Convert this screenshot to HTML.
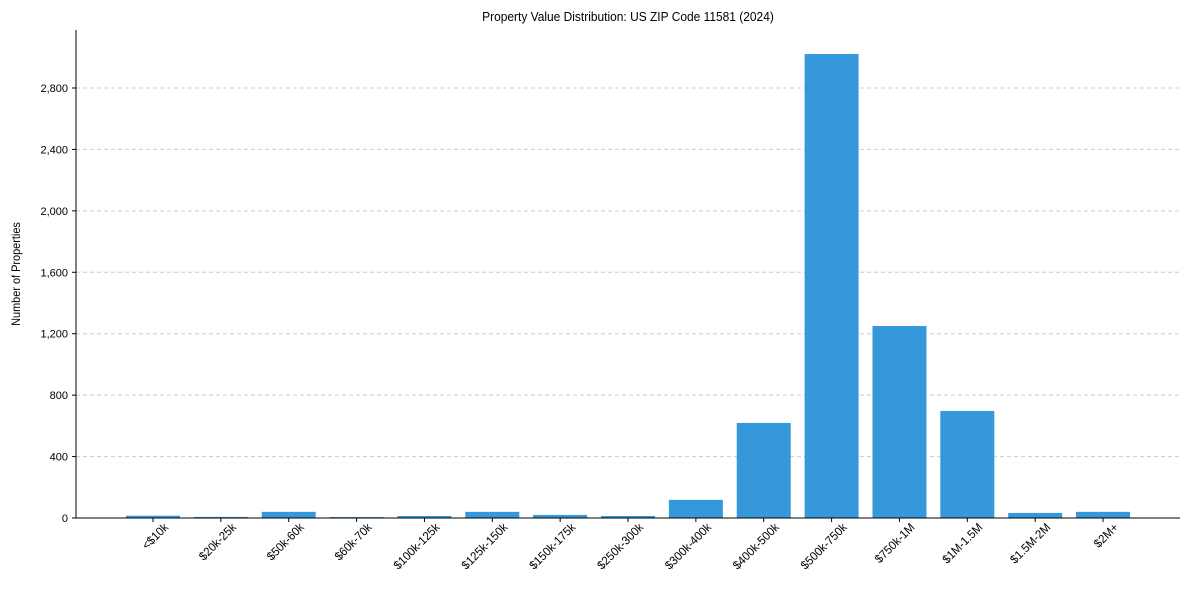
<!DOCTYPE html>
<html><head><meta charset="utf-8"><style>
body{margin:0;background:#fff;font-family:"Liberation Sans",Arial,sans-serif}
svg text{font-family:"Liberation Sans",Arial,sans-serif;fill:#000}
</style></head><body>
<svg id="c" width="1190" height="590">
<text x="628" y="21" font-size="13" text-anchor="middle" transform="translate(628,0) scale(0.92,1) translate(-628,0)">Property Value Distribution: US ZIP Code 11581 (2024)</text>
<text transform="translate(20,274) rotate(-90) scale(0.95,1)" font-size="11.5" text-anchor="middle">Number of Properties</text>
<g id="grid"></g><g id="bars"></g><g id="axes"></g>
</svg>
<script>
const categories=["<$10k","$20k-25k","$50k-60k","$60k-70k","$100k-125k","$125k-150k","$150k-175k","$250k-300k","$300k-400k","$400k-500k","$500k-750k","$750k-1M","$1M-1.5M","$1.5M-2M","$2M+"];
const values=[15,7,40,6,13,40,20,13,118,619,3021,1250,697,33,40];
const yTicks=[0,400,800,1200,1600,2000,2400,2800];
const yTickLabels=["0","400","800","1,200","1,600","2,000","2,400","2,800"];
const NS="http://www.w3.org/2000/svg";
const L=76,R=1180,T=30,B=518;
const yScale=v=>B-v*(430/2800);
const step=67.86,x0=153;
const xScale=i=>x0+i*step;
const bw=54;
function mk(t,a,p){const e=document.createElementNS(NS,t);for(const k in a)e.setAttribute(k,a[k]);p.appendChild(e);return e;}
const grid=document.getElementById('grid'),bars=document.getElementById('bars'),axes=document.getElementById('axes');
yTicks.forEach((v,i)=>{
  const y=yScale(v);
  if(v>0){const g=mk('line',{x1:L,x2:R,y1:y,y2:y,stroke:'#ccc','stroke-dasharray':'4,3','stroke-width':1},grid);
  
  }
  const tk=mk('line',{x1:L-4,x2:L,y1:y,y2:y,stroke:'#000'},axes);
  
  
  const t=mk('text',{x:L-8,y:y+4,'font-size':11,'text-anchor':'end'},axes);
  t.textContent=yTickLabels[i];
  
  
});
categories.forEach((c,i)=>{
  const cx=xScale(i),y=yScale(values[i]);
  const r=mk('rect',{x:cx-bw/2,y:y,width:bw,height:B-y,fill:'#3498db'},bars);
  
  
  const tk=mk('line',{x1:cx,x2:cx,y1:B,y2:B+4,stroke:'#000'},axes);
  
  
  const t=mk('text',{transform:`translate(${cx+16},${B+10}) rotate(-45) scale(0.95,1)`,'font-size':12,'text-anchor':'end'},axes);
  t.textContent=c;
  
  
});
const ya=mk('line',{x1:L,x2:L,y1:T,y2:B,stroke:'#000'},axes);


const xa=mk('line',{x1:L,x2:R,y1:B,y2:B,stroke:'#000'},axes);


</script>
</body></html>
